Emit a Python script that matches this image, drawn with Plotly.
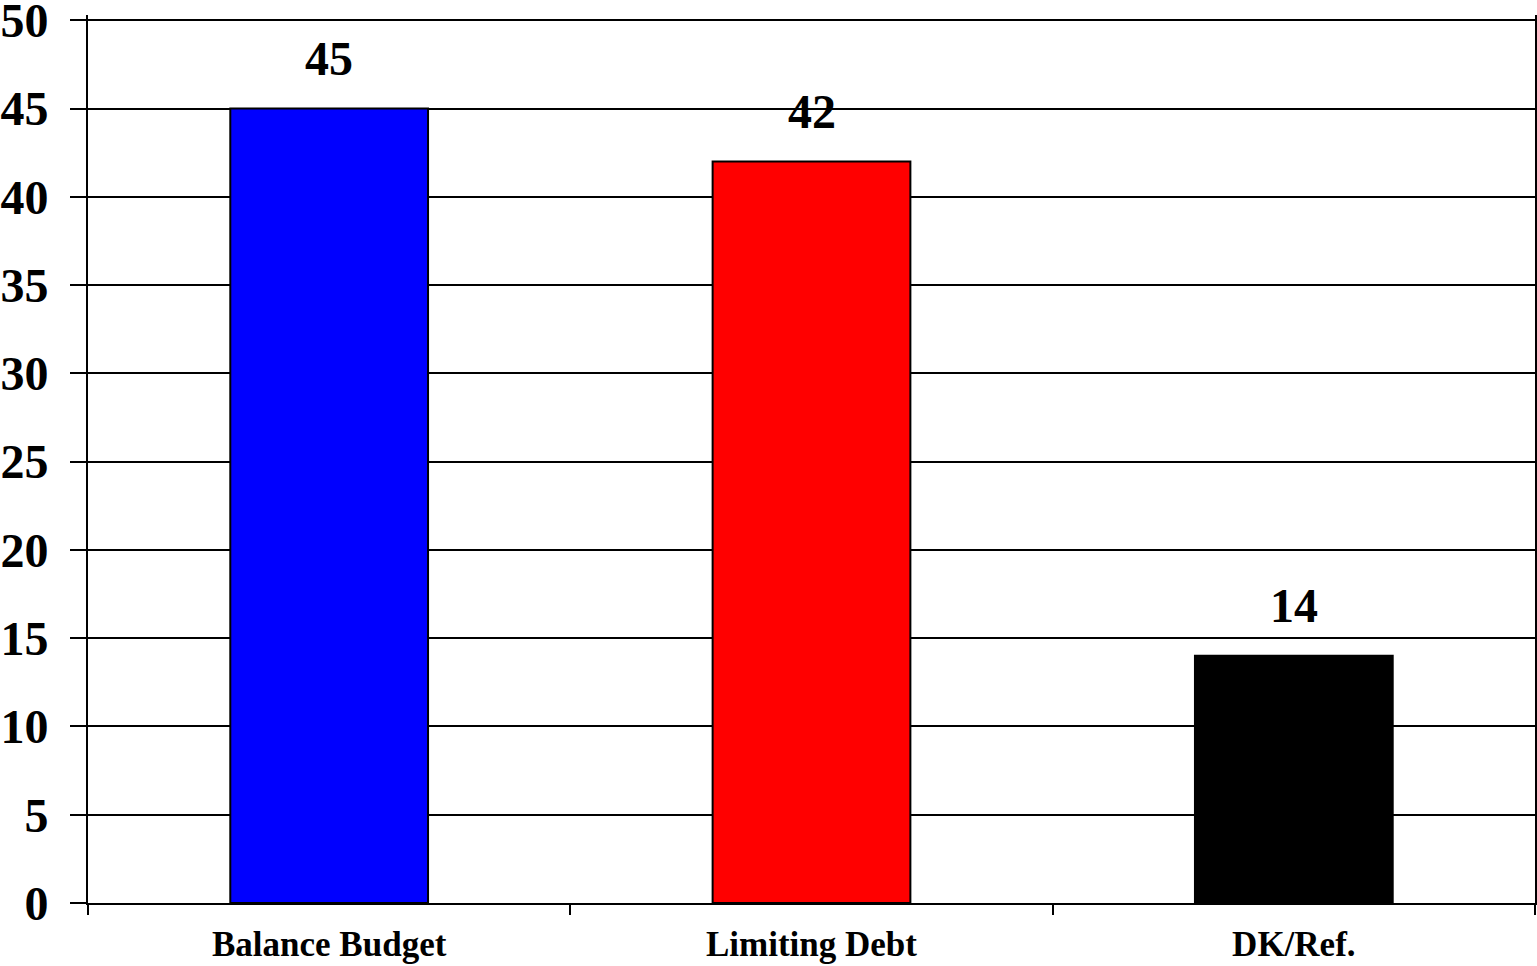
import plotly.graph_objects as go

categories = ["Balance Budget", "Limiting Debt", "DK/Ref."]
values = [45, 42, 14]
colors = ["#0000FF", "#FF0000", "#000000"]
y_ticks = [0, 5, 10, 15, 20, 25, 30, 35, 40, 45, 50]

font_family = "Liberation Serif, Times New Roman, serif"

fig = go.Figure()
fig.add_trace(go.Bar(
    x=categories,
    y=values,
    marker=dict(color=colors, line=dict(color="black", width=2)),
    width=0.41,
    hoverinfo="skip",
))

for c, v in zip(categories, values):
    fig.add_annotation(
        x=c, y=v, text=str(v), showarrow=False,
        yanchor="bottom", yshift=22,
        font=dict(family=font_family, size=48, color="black", weight="bold"),
    )

fig.update_layout(
    width=1537, height=966,
    margin=dict(l=88, r=2, t=15, b=63),
    paper_bgcolor="white",
    plot_bgcolor="white",
    showlegend=False,
)
fig.update_yaxes(
    range=[0, 50.3],
    tickvals=y_ticks,
    ticks="outside", ticklen=16, tickwidth=2, tickcolor="black",
    showgrid=True, gridcolor="black", gridwidth=2,
    showline=True, linecolor="black", linewidth=2, mirror=True,
    zeroline=False,
    automargin=False,
    ticklabeloverflow="allow",
    ticklabelstandoff=12,
    tickfont=dict(family=font_family, size=48, color="black", weight="bold"),
)
fig.update_xaxes(
    ticks="outside", ticklen=10, tickwidth=2, tickcolor="black",
    tickson="boundaries",
    showline=True, linecolor="black", linewidth=2,
    showgrid=False,
    automargin=False,
    ticklabeloverflow="allow",
    ticklabelstandoff=9,
    tickfont=dict(family=font_family, size=35, color="black", weight="bold"),
)

fig.write_html(
    "out.html",
    config={"displayModeBar": False},
    post_script="document.body.style.margin='0';document.body.style.overflow='hidden';",
)
